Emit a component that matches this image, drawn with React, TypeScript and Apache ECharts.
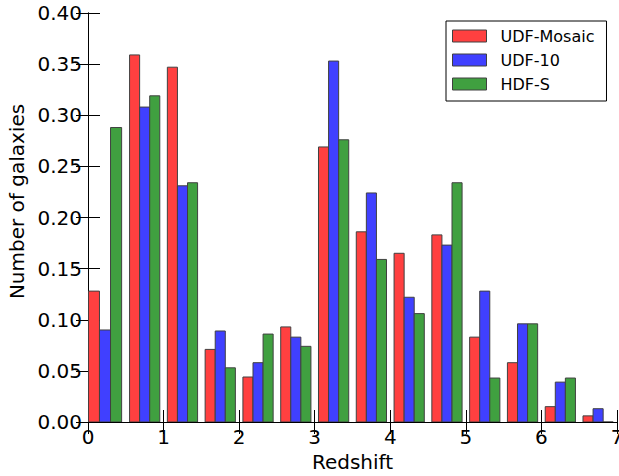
import React, { useEffect, useRef } from "react";
import * as echarts from "echarts";

const binEdges = [-0.05, 0.5, 1.0, 1.5, 2.0, 2.5, 3.0, 3.5, 4.0, 4.5, 5.0, 5.5, 6.0, 6.5, 7.0];
const seriesNames = ["UDF-Mosaic", "UDF-10", "HDF-S"];
const udfMosaic = [0.128, 0.359, 0.347, 0.071, 0.044, 0.093, 0.269, 0.186, 0.165, 0.183, 0.083, 0.058, 0.015, 0.006];
const udf10 = [0.090, 0.308, 0.231, 0.089, 0.058, 0.083, 0.353, 0.224, 0.122, 0.173, 0.128, 0.096, 0.039, 0.013];
const hdfS = [0.288, 0.319, 0.234, 0.053, 0.086, 0.074, 0.276, 0.159, 0.106, 0.234, 0.043, 0.096, 0.043, 0.0];
const yTicks = [0, 0.05, 0.1, 0.15, 0.2, 0.25, 0.3, 0.35, 0.4];
const xTicks = [0, 1, 2, 3, 4, 5, 6, 7];

const colors = ["#ff4040", "#4040ff", "#40a040"];
const edgeColor = "#404040";
const FONT = "DejaVu Sans";

export default function App() {
  const ref = useRef<HTMLDivElement>(null);
  useEffect(() => {
    document.body.style.margin = "0";
    const chart = echarts.init(ref.current!, null, { renderer: "svg" });
    const all = [udfMosaic, udf10, hdfS];
    const n = all.length;
    const series = all.map((vals, s) => {
      const data = vals.map((v, i) => {
        const w = binEdges[i + 1] - binEdges[i];
        const bw = (0.8 * w) / n;
        const start = binEdges[i] + 0.1 * w + s * bw;
        return [start, start + bw, v];
      });
      return {
        type: "custom",
        name: seriesNames[s],
        itemStyle: { color: colors[s] },
        encode: { x: [0, 1], y: 2 },
        data,
        clip: true,
        renderItem: (params: any, api: any) => {
          const p0 = api.coord([api.value(0), api.value(2)]);
          const p1 = api.coord([api.value(1), 0]);
          return {
            type: "rect",
            shape: { x: p0[0], y: p0[1], width: p1[0] - p0[0], height: p1[1] - p0[1] },
            style: { fill: colors[s], stroke: edgeColor, lineWidth: 1 },
          };
        },
      };
    });
    const axisLine = { show: true, lineStyle: { color: "#000", width: 1 } };
    const tick = { show: true, inside: true, length: 12, lineStyle: { color: "#000", width: 1 } };
    chart.setOption({
      animation: false,
      grid: { left: 88, right: 2, top: 13, bottom: 54, outerBoundsMode: "none", containLabel: false },
      legend: {
        orient: "vertical",
        left: 446,
        top: 21,
        icon: "rect",
        itemWidth: 34,
        itemHeight: 12,
        itemGap: 8,
        padding: [7, 12, 9, 6],
        borderColor: "#000",
        borderWidth: 1,
        textStyle: { fontFamily: FONT, fontSize: 16, color: "#000", padding: [0, 0, 0, 9], lineHeight: 16 },
        data: seriesNames.map((nm, i) => ({
          name: nm,
          itemStyle: { color: colors[i], borderColor: edgeColor, borderWidth: 1 },
        })),
      },
      xAxis: [
        {
          type: "value",
          min: 0,
          max: 7,
          interval: 1,
          position: "bottom",
          name: "Redshift",
          nameLocation: "middle",
          nameGap: 29,
          nameTextStyle: { fontFamily: FONT, fontSize: 20, color: "#000" },
          axisLine,
          axisTick: tick,
          splitLine: { show: false },
          axisLabel: {
            fontFamily: FONT,
            fontSize: 20,
            color: "#000",
            margin: 5,
            formatter: (v: number) => (xTicks.includes(v) ? String(v) : ""),
          },
        },
        {
          type: "value",
          min: 0,
          max: 7,
          interval: 1,
          position: "top",
          axisLine,
          axisTick: tick,
          splitLine: { show: false },
          axisLabel: { show: false },
        },
      ],
      yAxis: [
        {
          type: "value",
          min: 0,
          max: 0.4,
          interval: 0.05,
          position: "left",
          name: "Number of galaxies",
          nameLocation: "middle",
          nameGap: 58,
          nameTextStyle: { fontFamily: FONT, fontSize: 20, color: "#000", padding: [0, 0, 0, 32] },
          axisLine,
          axisTick: tick,
          splitLine: { show: false },
          axisLabel: {
            fontFamily: FONT,
            fontSize: 20,
            color: "#000",
            margin: 6,
            formatter: (v: number) => {
              const t = yTicks.find((y) => Math.abs(y - v) < 1e-9);
              return t === undefined ? "" : t.toFixed(2);
            },
          },
        },
        {
          type: "value",
          min: 0,
          max: 0.4,
          interval: 0.05,
          position: "right",
          axisLine,
          axisTick: tick,
          splitLine: { show: false },
          axisLabel: { show: false },
        },
      ],
      series,
    });
    return () => chart.dispose();
  }, []);
  return <div ref={ref} style={{ width: 619, height: 476 }} />;
}
